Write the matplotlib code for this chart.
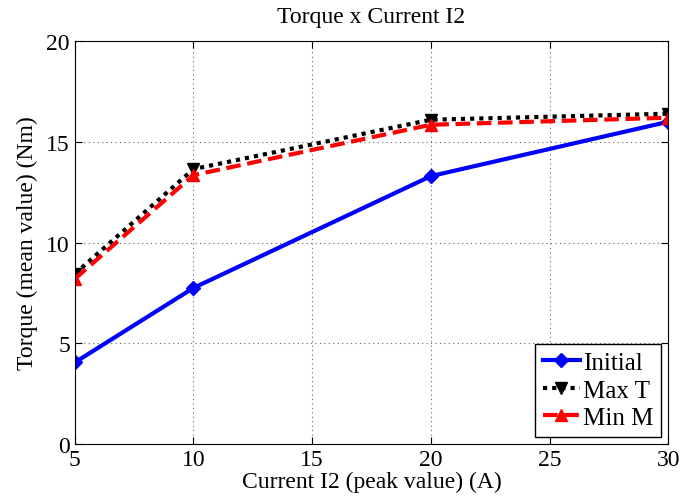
import numpy as np
import matplotlib
matplotlib.use('Agg')
import matplotlib.pyplot as plt

plt.rcParams['font.family'] = ['Liberation Serif', 'DejaVu Serif']

# data
current = [5, 10, 20, 30]
torque_initial = [4.05, 7.75, 13.3, 16.0]
torque_max_t = [8.45, 13.65, 16.1, 16.4]
torque_min_m = [8.2, 13.35, 15.85, 16.2]

fig = plt.figure(figsize=(6.99, 5.02), dpi=100)
ax = fig.add_axes([0.107, 0.1135, 0.849, 0.8025])

ax.plot(current, torque_initial, color='blue', lw=3, ls='-',
        marker='D', ms=7, label='Initial')
ax.plot(current, torque_max_t, color='black', lw=3, ls=(0, (1, 1.2)),
        marker='v', ms=9, label='Max T')
ax.plot(current, torque_min_m, color='red', lw=3, ls=(0, (3.5, 1.6)),
        marker='^', ms=9, label='Min M')

ax.set_xlim(5, 30)
ax.set_ylim(0, 20)
ax.set_xticks([5, 10, 15, 20, 25, 30])
ax.set_yticks([0, 5, 10, 15, 20])
ax.grid(True, ls=(0, (1, 3)), color='#666666', lw=0.8)
ax.tick_params(direction='in', labelsize=17, length=5, top=True, right=True)
for s in ax.spines.values():
    s.set_linewidth(0.8)

ax.set_title('Torque x Current I2', fontsize=17, pad=14)
ax.set_xlabel('Current I2 (peak value) (A)', fontsize=17, labelpad=1)
ax.set_ylabel('Torque (mean value) (Nm)', fontsize=17, labelpad=6)

leg = ax.legend(loc='lower right', fontsize=18, fancybox=False,
                edgecolor='black', framealpha=1, handlelength=1.5,
                handletextpad=0.1, borderpad=0.3, labelspacing=0.2,
                borderaxespad=0.3)
leg.get_frame().set_linewidth(1.0)

fig.savefig('out.png', dpi=100)
